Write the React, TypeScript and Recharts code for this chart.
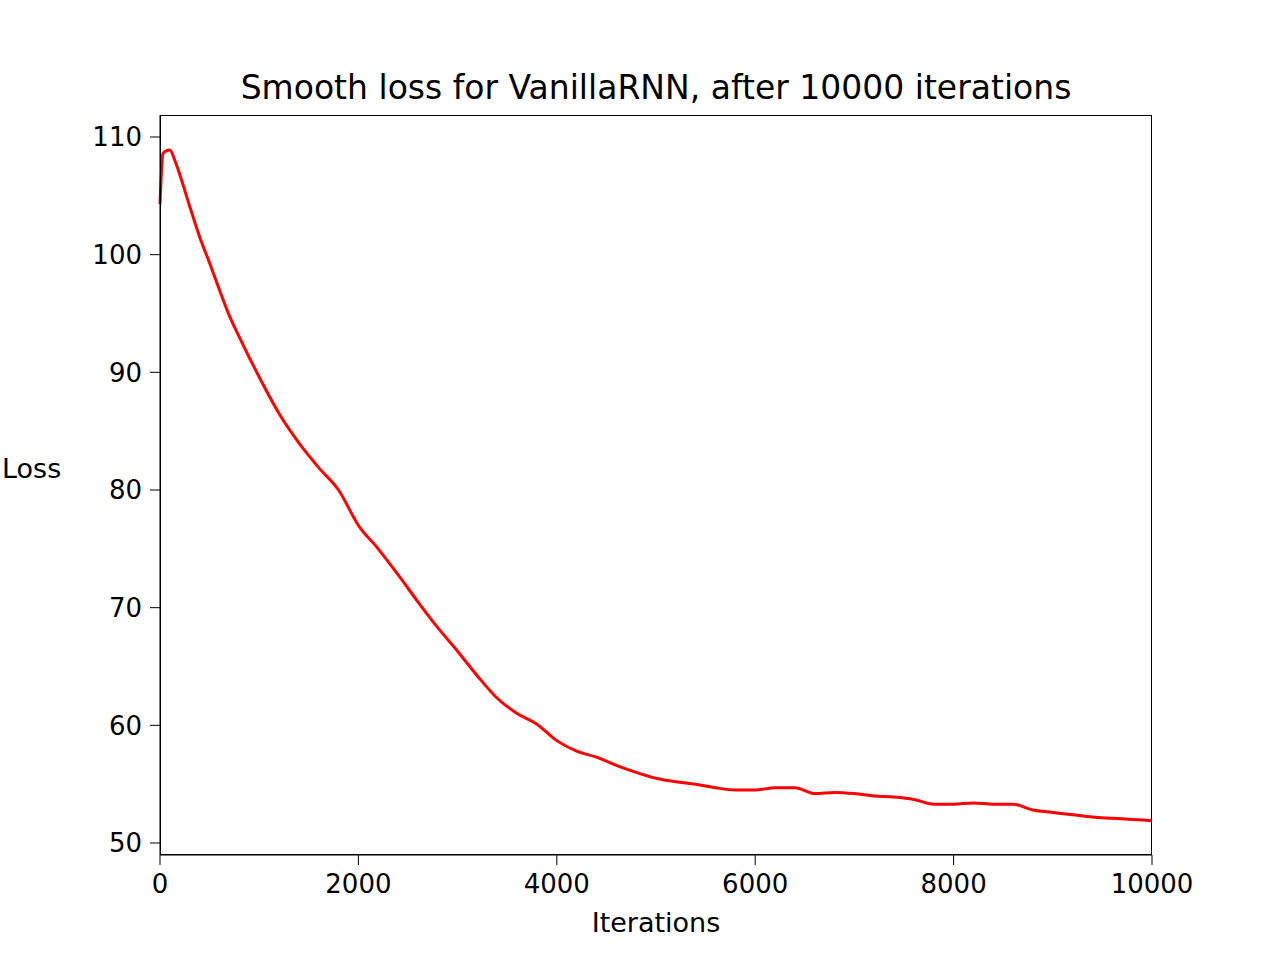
import { Line, LineChart, XAxis, YAxis } from "recharts";

const iterations = [0, 30, 60, 100, 150, 200, 300, 400, 500, 600, 700, 800, 1000, 1200, 1400, 1600, 1800, 2000, 2200, 2400, 2600, 2800, 3000, 3200, 3400, 3600, 3800, 4000, 4200, 4400, 4600, 4800, 5000, 5200, 5400, 5600, 5800, 6000, 6200, 6400, 6600, 6800, 7000, 7200, 7400, 7600, 7800, 8000, 8200, 8400, 8600, 8800, 9000, 9200, 9400, 9600, 9800, 10000];
const loss = [104.3, 108.6, 108.8, 108.9, 108, 106.8, 104.1, 101.5, 99.3, 97, 94.8, 93, 89.6, 86.5, 84, 81.9, 80, 77, 75, 72.8, 70.5, 68.3, 66.3, 64.2, 62.3, 61, 60.1, 58.7, 57.8, 57.3, 56.6, 56, 55.5, 55.2, 55, 54.7, 54.5, 54.5, 54.7, 54.7, 54.2, 54.3, 54.2, 54, 53.9, 53.7, 53.3, 53.3, 53.4, 53.3, 53.3, 52.8, 52.6, 52.4, 52.2, 52.1, 52.0, 51.9];
const xTicks = [0, 2000, 4000, 6000, 8000, 10000];
const yTicks = [50, 60, 70, 80, 90, 100, 110];

const data = iterations.map((it, i) => ({ it, loss: loss[i] }));
const font = "DejaVu Sans";
const tickStyle = { fontSize: 26, fill: "#000", fontFamily: font };

export default function App() {
  document.body.style.margin = "0";
  return (
    <div style={{ position: "relative", width: 1280, height: 960, background: "#fff", fontFamily: font }}>
      <LineChart width={1280} height={960} data={data} margin={{ top: 115, left: 90, right: 128, bottom: 65 }}>
        <XAxis dataKey="it" type="number" domain={[0, 10000]} ticks={xTicks} tick={{ ...tickStyle, dy: 8 }} tickSize={10} stroke="#000" height={40} />
        <YAxis type="number" domain={[48.98, 111.87]} ticks={yTicks} tick={{ ...tickStyle, dx: -6 }} tickSize={10} stroke="#000" width={70} allowDataOverflow />
        <Line dataKey="loss" stroke="#ff0000" strokeWidth={3} dot={false} type="monotone" isAnimationActive={false} />
      </LineChart>
      <div style={{ position: "absolute", left: 160, top: 115, width: 992, height: 740, border: "1.5px solid #000", boxSizing: "border-box", pointerEvents: "none" }} />
      <div style={{ position: "absolute", left: 160, width: 992, top: 68, textAlign: "center", fontSize: 33, whiteSpace: "nowrap" }}>Smooth loss for VanillaRNN, after 10000 iterations</div>
      <div style={{ position: "absolute", left: 160, width: 992, top: 907, textAlign: "center", fontSize: 27 }}>Iterations</div>
      <div style={{ position: "absolute", left: 2, top: 453, fontSize: 27 }}>Loss</div>
    </div>
  );
}
